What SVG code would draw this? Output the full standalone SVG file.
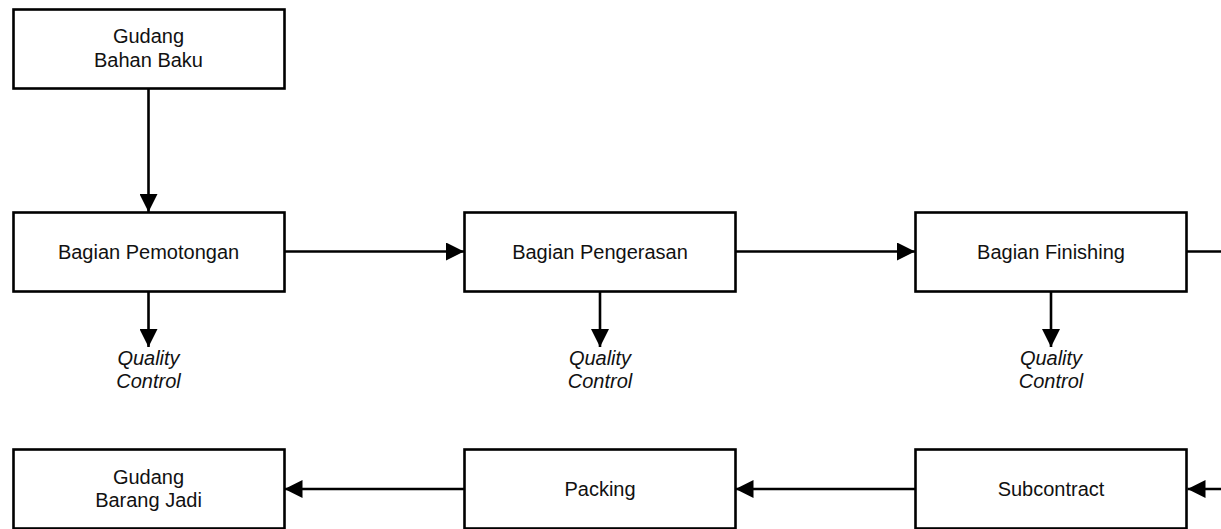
<svg xmlns="http://www.w3.org/2000/svg" width="1221" height="529" viewBox="0 0 1221 529">
<defs>
<style>
.box{fill:#fff;stroke:#000;stroke-width:2.6}
.lbl{font-family:"Liberation Sans",Arial,sans-serif;font-size:20px;fill:#111;text-anchor:middle}
.qc{font-style:italic}
.con{stroke:#000;stroke-width:2.6;fill:none;marker-end:url(#ah)}
.plain{stroke:#000;stroke-width:2.6;fill:none}
</style>
<marker id="ah" markerUnits="userSpaceOnUse" markerWidth="18" markerHeight="18" refX="18" refY="9" orient="auto">
<path d="M0,0 L18,9 L0,18 z" fill="#000"/>
</marker>
</defs>
<rect width="1221" height="529" fill="#fff"/>
<g id="connectors">
<line class="con" x1="148.5" y1="88" x2="148.5" y2="212"/>
<line class="con" x1="284" y1="251.5" x2="464" y2="251.5"/>
<line class="con" x1="735.5" y1="251.5" x2="915" y2="251.5"/>
<line class="plain" x1="1187" y1="251.5" x2="1221" y2="251.5"/>
<line class="con" x1="148.5" y1="291" x2="148.5" y2="347"/>
<line class="con" x1="600" y1="291" x2="600" y2="347"/>
<line class="con" x1="1051" y1="291" x2="1051" y2="347"/>
<line class="con" x1="1221" y1="489" x2="1187.5" y2="489"/>
<line class="con" x1="915" y1="489" x2="735.5" y2="489"/>
<line class="con" x1="464" y1="489" x2="284.5" y2="489"/>
</g>
<g id="gudang-bahan-baku">
<rect class="box" x="13.5" y="9.5" width="271" height="79"/>
<text class="lbl" x="148.5" y="43">Gudang</text>
<text class="lbl" x="148.5" y="66.5">Bahan Baku</text>
</g>
<g id="bagian-pemotongan">
<rect class="box" x="13.5" y="212.5" width="271" height="79"/>
<text class="lbl" x="148.5" y="258.5">Bagian Pemotongan</text>
</g>
<g id="bagian-pengerasan">
<rect class="box" x="464.5" y="212.5" width="271" height="79"/>
<text class="lbl" x="600" y="258.5">Bagian Pengerasan</text>
</g>
<g id="bagian-finishing">
<rect class="box" x="915.5" y="212.5" width="271" height="79"/>
<text class="lbl" x="1051" y="258.5">Bagian Finishing</text>
</g>
<g id="qc1">
<text class="lbl qc" x="148.5" y="365">Quality</text>
<text class="lbl qc" x="148.5" y="388">Control</text>
</g>
<g id="qc2">
<text class="lbl qc" x="600" y="365">Quality</text>
<text class="lbl qc" x="600" y="388">Control</text>
</g>
<g id="qc3">
<text class="lbl qc" x="1051" y="365">Quality</text>
<text class="lbl qc" x="1051" y="388">Control</text>
</g>
<g id="gudang-barang-jadi">
<rect class="box" x="13.5" y="449.5" width="271" height="79"/>
<text class="lbl" x="148.5" y="484">Gudang</text>
<text class="lbl" x="148.5" y="507">Barang Jadi</text>
</g>
<g id="packing">
<rect class="box" x="464.5" y="449.5" width="271" height="79"/>
<text class="lbl" x="600" y="496">Packing</text>
</g>
<g id="subcontract">
<rect class="box" x="915.5" y="449.5" width="271" height="79"/>
<text class="lbl" x="1051" y="496">Subcontract</text>
</g>
</svg>
